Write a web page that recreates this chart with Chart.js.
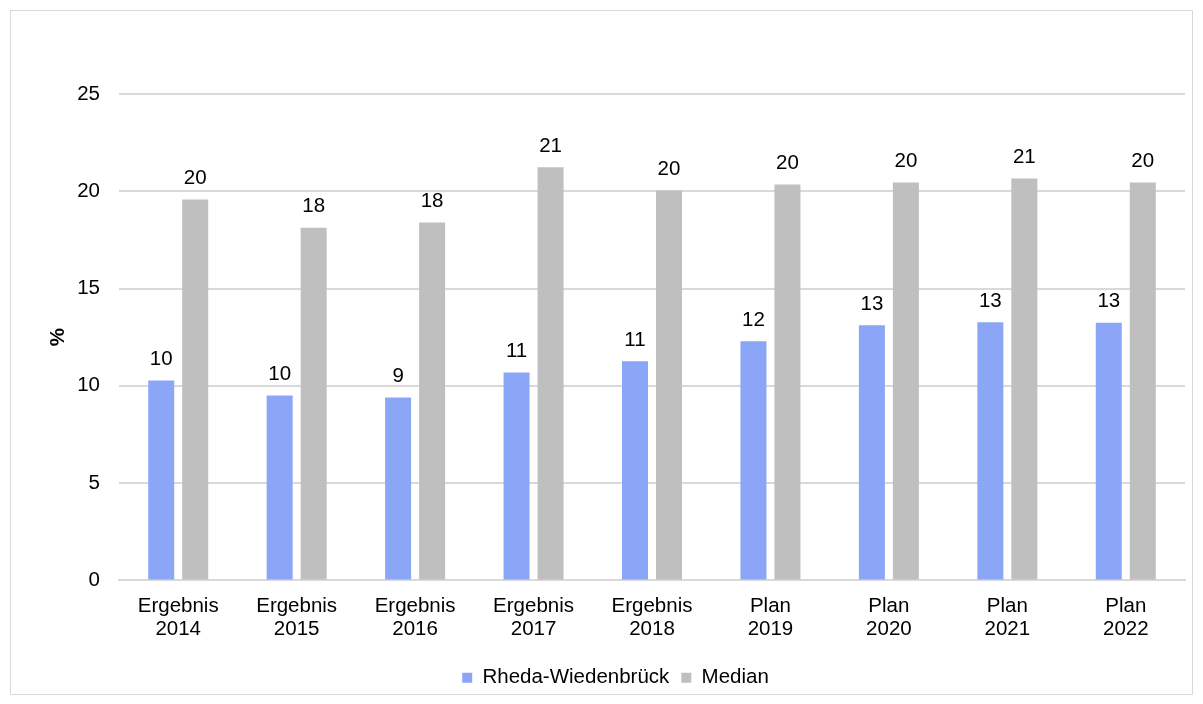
<!DOCTYPE html>
<html>
<head>
<meta charset="utf-8">
<script src="https://cdn.jsdelivr.net/npm/chart.js@4/dist/chart.umd.min.js"></script>
<style>
  html, body { margin: 0; padding: 0; background: #fff; }
  #wrap { position: absolute; left: 0; top: 0; width: 1203px; height: 704px; }
  #frame {
    position: absolute; left: 10px; top: 10px;
    width: 1181px; height: 683px;
    border: 1px solid #d9d9d9;
    pointer-events: none;
  }
</style>
</head>
<body>
<div id="wrap"><canvas id="chart"></canvas></div>
<div id="frame"></div>
<script>
// data
var categories = [['Ergebnis', '2014'], ['Ergebnis', '2015'], ['Ergebnis', '2016'], ['Ergebnis', '2017'], ['Ergebnis', '2018'],
  ['Plan', '2019'], ['Plan', '2020'], ['Plan', '2021'], ['Plan', '2022']];
var rhedaValues = [10.28, 9.50, 9.40, 10.69, 11.26, 12.29, 13.12, 13.27, 13.24];
var medianValues = [19.58, 18.13, 18.39, 21.23, 20.04, 20.35, 20.45, 20.66, 20.45];
var yTicks = [0, 5, 10, 15, 20, 25];

var FONT = '"Liberation Sans", Arial, sans-serif';

// value labels above bars
var barLabels = {
  id: 'barLabels',
  afterDatasetsDraw: function (chart) {
    var ctx = chart.ctx;
    ctx.save();
    ctx.font = '20.5px ' + FONT;
    ctx.fillStyle = '#000';
    ctx.textAlign = 'center';
    ctx.textBaseline = 'middle';
    chart.data.datasets.forEach(function (ds, i) {
      chart.getDatasetMeta(i).data.forEach(function (bar, j) {
        ctx.fillText(Math.round(ds.data[j]), bar.x, bar.y - 21);
      });
    });
    ctx.restore();
  }
};

var ctx = document.getElementById('chart');
new Chart(ctx, {
  type: 'bar',
  data: {
    labels: categories,
    datasets: [{
      label: 'Rheda-Wiedenbrück',
      data: rhedaValues,
      backgroundColor: '#8ba6f7',
      categoryPercentage: 0.574,
      barPercentage: 0.765
    }, {
      label: 'Median',
      data: medianValues,
      backgroundColor: '#bfbfbf',
      categoryPercentage: 0.574,
      barPercentage: 0.765
    }]
  },
  options: {
    responsive: true,
    maintainAspectRatio: false,
    animation: false,
    layout: { padding: { left: 46, right: 18, top: 94, bottom: 6 } },
    plugins: {
      legend: {
        position: 'bottom',
        labels: {
          color: '#000',
          font: { family: FONT, size: 20.5 },
          boxWidth: 10,
          boxHeight: 10,
          padding: 12
        }
      },
      tooltip: { enabled: false }
    },
    scales: {
      x: {
        grid: { display: false, drawTicks: false },
        border: { color: '#d9d9d9', width: 2 },
        ticks: {
          color: '#000',
          padding: 15,
          maxRotation: 0,
          font: { family: FONT, size: 20.5, lineHeight: 1.1 }
        }
      },
      y: {
        min: 0,
        max: 25,
        afterBuildTicks: function (axis) {
          axis.ticks = yTicks.map(function (v) { return { value: v }; });
        },
        afterFit: function (axis) { axis.width = 73; },
        grid: { color: '#d9d9d9', lineWidth: 2, drawTicks: false },
        border: { display: false },
        ticks: {
          color: '#000',
          padding: 19,
          font: { family: FONT, size: 20.5 }
        },
        title: {
          display: true,
          text: '%',
          color: '#000',
          padding: { top: 0, bottom: 0 },
          font: { family: FONT, size: 20.5, weight: 'bold' }
        }
      }
    }
  },
  plugins: [barLabels]
});
</script>
</body>
</html>
